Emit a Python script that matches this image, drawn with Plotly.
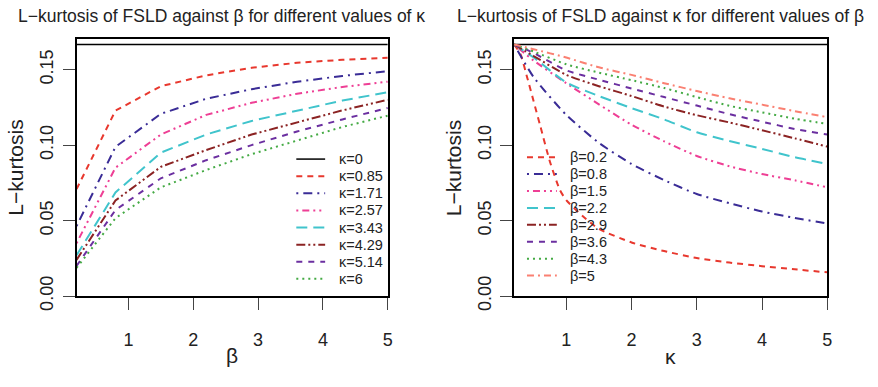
import plotly.graph_objects as go

# ---------------- data ----------------
# Left panel: L-kurtosis against beta for several kappa
beta = [0.2, 0.8, 1.5, 2.2, 2.9, 3.6, 4.3, 5.0]
kappa_names = ["κ=0", "κ=0.85", "κ=1.71", "κ=2.57", "κ=3.43", "κ=4.29", "κ=5.14", "κ=6"]
lk_k0    = [0.1667, 0.1667, 0.1667, 0.1667, 0.1667, 0.1667, 0.1667, 0.1667]
lk_k085  = [0.0708, 0.1228, 0.1390, 0.1462, 0.1512, 0.1545, 0.1565, 0.1578]
lk_k171  = [0.0463, 0.0988, 0.1207, 0.1307, 0.1370, 0.1420, 0.1458, 0.1490]
lk_k257  = [0.0350, 0.0850, 0.1070, 0.1200, 0.1280, 0.1340, 0.1385, 0.1420]
lk_k343  = [0.0270, 0.0686, 0.0950, 0.1070, 0.1160, 0.1230, 0.1295, 0.1350]
lk_k429  = [0.0240, 0.0633, 0.0856, 0.0967, 0.1070, 0.1150, 0.1230, 0.1300]
lk_k514  = [0.0200, 0.0570, 0.0780, 0.0900, 0.1000, 0.1090, 0.1170, 0.1246]
lk_k6    = [0.0187, 0.0516, 0.0720, 0.0835, 0.0940, 0.1030, 0.1120, 0.1195]
left_series = [lk_k0, lk_k085, lk_k171, lk_k257, lk_k343, lk_k429, lk_k514, lk_k6]

# Right panel: L-kurtosis against kappa for several beta
kappa = [0.2, 0.5, 1.0, 1.5, 2.0, 2.5, 3.0, 3.5, 4.0, 4.5, 5.0]
kappa_fine = [0.2, 0.3, 0.4, 0.5, 0.6, 0.75, 0.9, 1.0, 1.25, 1.5, 2.0, 2.5, 3.0, 3.5, 4.0, 4.5, 5.0]
beta_names = ["β=0.2", "β=0.8", "β=1.5", "β=2.2", "β=2.9", "β=3.6", "β=4.3", "β=5"]
lk_b02 = [0.1667, 0.1600, 0.1450, 0.1290, 0.1130, 0.0890, 0.0705, 0.0635, 0.0530, 0.0445,
          0.0355, 0.0298, 0.0252, 0.0222, 0.0198, 0.0177, 0.0157]
lk_b08 = [0.1667, 0.1450, 0.1200, 0.1015, 0.0875, 0.0768, 0.0676, 0.0615, 0.0560, 0.0518, 0.0480]
lk_b15 = [0.1667, 0.1560, 0.1410, 0.1270, 0.1135, 0.1025, 0.0928, 0.0860, 0.0808, 0.0767, 0.0720]
lk_b22 = [0.1667, 0.1580, 0.1415, 0.1325, 0.1245, 0.1170, 0.1085, 0.1027, 0.0975, 0.0920, 0.0875]
lk_b29 = [0.1667, 0.1590, 0.1465, 0.1390, 0.1325, 0.1255, 0.1198, 0.1150, 0.1098, 0.1045, 0.0990]
lk_b36 = [0.1667, 0.1610, 0.1495, 0.1433, 0.1375, 0.1318, 0.1262, 0.1205, 0.1155, 0.1107, 0.1070]
lk_b43 = [0.1667, 0.1620, 0.1535, 0.1480, 0.1430, 0.1378, 0.1318, 0.1260, 0.1217, 0.1175, 0.1140]
lk_b5  = [0.1667, 0.1635, 0.1580, 0.1515, 0.1465, 0.1410, 0.1358, 0.1310, 0.1268, 0.1225, 0.1185]
right_series = [lk_b02, lk_b08, lk_b15, lk_b22, lk_b29, lk_b36, lk_b43, lk_b5]
right_x = [kappa_fine] + [kappa] * 7
ref_line = [0.1667] * len(kappa)

x_ticks = [1, 2, 3, 4, 5]
y_ticks = [0.0, 0.05, 0.10, 0.15]

# ---------------- styles ----------------
left_colors = ["#000000", "#E8382E", "#3A2C96", "#EE3F95", "#40C4CC", "#8B2323", "#6B2FA0", "#44AA44"]
left_dashes = ["solid", "6px,5px", "2px,5px,9px,5px", "2px,4px,7px,4px,2px,4px",
               "11px,6px", "9px,3px,2px,3px,2px,3px", "6px,6px", "2px,4px"]
right_colors = ["#E8382E", "#3A2C96", "#EE3F95", "#40C4CC", "#8B2323", "#6B2FA0", "#44AA44", "#FA8072"]
right_dashes = left_dashes[1:] + ["7px,4px,2px,4px"]

W, H = 878, 387
fig = go.Figure()

for name, ys, c, d in zip(kappa_names, left_series, left_colors, left_dashes):
    fig.add_trace(go.Scatter(x=beta, y=ys, mode="lines", name=name, showlegend=False,
                             line=dict(color=c, dash=d, width=2 if c != "#000000" else 1.5),
                             xaxis="x", yaxis="y"))

fig.add_trace(go.Scatter(x=kappa, y=ref_line, mode="lines", showlegend=False,
                         line=dict(color="#000000", width=1.5), xaxis="x2", yaxis="y2"))
for name, xs, ys, c, d in zip(beta_names, right_x, right_series, right_colors, right_dashes):
    fig.add_trace(go.Scatter(x=xs, y=ys, mode="lines", name=name, showlegend=False,
                             line=dict(color=c, dash=d, width=2, shape="spline", smoothing=0.6),
                             xaxis="x2", yaxis="y2"))

def px(x):
    return x / W

def py(y):
    return 1 - y / H

font = "Liberation Sans, Arial, sans-serif"
axis_common = dict(showline=True, linecolor="black", linewidth=1.8, mirror=True,
                   ticks="outside", ticklen=12, tickwidth=1.3, tickcolor="#444",
                   showgrid=False, zeroline=False,
                   tickfont=dict(family=font, size=18, color="#222"))

xa = dict(axis_common, range=[0.2, 5], tickmode="array", tickvals=x_ticks,
          ticktext=[str(t) for t in x_ticks], ticklabelstandoff=14)
ya = dict(axis_common, range=[0, 0.17], tickmode="array", tickvals=y_ticks,
          ticktext=[f"{t:.2f}" for t in y_ticks], tickangle=-90, ticklabelstandoff=2)

L0, L1, R0, R1, T, B = 77, 390, 517, 832, 41, 308

fig.update_layout(
    width=W, height=H, margin=dict(l=0, r=0, t=0, b=0),
    paper_bgcolor="white", plot_bgcolor="white", showlegend=False,
    xaxis=dict(xa, domain=[px(L0), px(L1)], anchor="y"),
    yaxis=dict(ya, domain=[py(B), py(T)], anchor="x"),
    xaxis2=dict(xa, domain=[px(R0), px(R1)], anchor="y2"),
    yaxis2=dict(ya, domain=[py(B), py(T)], anchor="x2"),
)

def note(text, x, y, size, angle=0, xanchor="center"):
    return dict(text=text, x=px(x), y=py(y), xref="paper", yref="paper", showarrow=False,
                xanchor=xanchor, yanchor="middle", textangle=angle,
                font=dict(family=font, size=size, color="#222"))

ann = [
    note("L−kurtosis of FSLD against β for different values of κ", 223, 17, 17.5),
    note("L−kurtosis of FSLD against κ for different values of β", 664, 17, 17.5),
    note("L−kurtosis", 16, (T + B) / 2, 21, angle=-90),
    note("L−kurtosis", 456, (T + B) / 2, 21, angle=-90),
    note("β", (L0 + L1) / 2, 370, 21),
    note("κ", (R0 + R1) / 2, 371, 21),
]

# manual legends (R-style, no box)
shapes = []
legends = [
    (kappa_names, left_colors, left_dashes, 298, 327, 339, 165.5, 17.8),
    (beta_names, right_colors, right_dashes, 530, 560, 571, 163.5, 17.6),
]
for names, cols, dashes, lx0, lx1, tx, y0, dy in legends:
    for i, (n, c, d) in enumerate(zip(names, cols, dashes)):
        yy = y0 + i * dy
        shapes.append(dict(type="line", xref="paper", yref="paper", x0=px(lx0), x1=px(lx1),
                           y0=py(yy), y1=py(yy),
                           line=dict(color=c, dash=d, width=2 if c != "#000000" else 1.5)))
        ann.append(note(n, tx, yy, 14.5, xanchor="left"))

fig.update_layout(annotations=ann, shapes=shapes)
fig.write_html("out.html")
